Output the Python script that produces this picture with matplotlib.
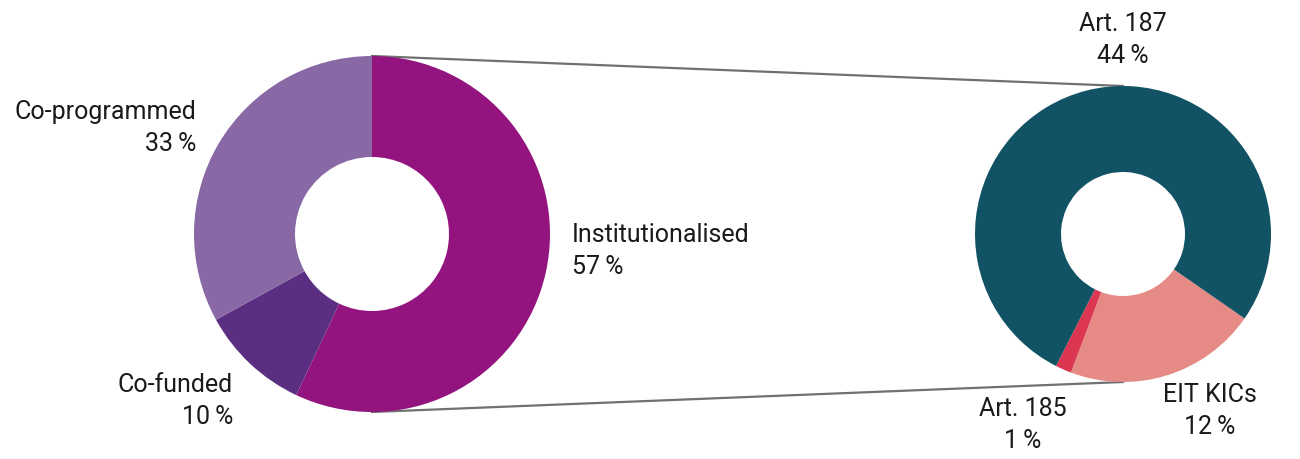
import matplotlib.pyplot as plt

plt.rcParams['font.family'] = ['Roboto', 'DejaVu Sans']

# main split of the partnerships
main_labels = ['Institutionalised', 'Co-funded', 'Co-programmed']
main_values = [57, 10, 33]
main_colors = ['#93147e', '#5a2e80', '#8869a5']

# breakdown of the institutionalised share
inst_labels = ['EIT KICs', 'Art. 185', 'Art. 187']
inst_values = [12, 1, 44]
inst_colors = ['#e58a84', '#db3752', '#115264']

W, H = 1300, 459


def pct(v):
    return f'{v}\u2009%'


fig = plt.figure(figsize=(13, 4.59), dpi=100)
ax = fig.add_axes([0, 0, 1, 1])

left_c, left_r = (372, 234), 178
right_c, right_r = (1123, 234), 148

# connector lines, drawn behind the donuts
ax.plot([left_c[0], right_c[0]], [left_c[1] - left_r, right_c[1] - right_r],
        color='#707070', lw=1.6, zorder=1)
ax.plot([left_c[0], right_c[0]], [left_c[1] + left_r, right_c[1] + right_r],
        color='#707070', lw=1.6, zorder=1)

# y axis is flipped, so counterclock=True here draws clockwise on screen
w1, _ = ax.pie(main_values, colors=main_colors, startangle=-90, counterclock=True,
               center=left_c, radius=left_r, frame=True,
               wedgeprops=dict(width=left_r - 77, linewidth=0))
w2, _ = ax.pie(inst_values, colors=inst_colors, startangle=34.8, counterclock=True,
               center=right_c, radius=right_r, frame=True,
               wedgeprops=dict(width=right_r - 62, linewidth=0))
for w in w1 + w2:
    w.set_zorder(2)

ax.set_xlim(0, W)
ax.set_ylim(H, 0)
ax.set_aspect('equal')
ax.axis('off')

fs = 18
kw = dict(fontsize=fs, color='#1a1a1a', va='baseline', linespacing=1.4)
ax.text(196, 151, f'{main_labels[2]}\n{pct(main_values[2])}', ha='right', **kw)
ax.text(572, 274, f'{main_labels[0]}\n{pct(main_values[0])}', ha='left', **kw)
ax.text(233, 424, f'{main_labels[1]}\n{pct(main_values[1])}', ha='right', **kw)
ax.text(1123, 63, f'{inst_labels[2]}\n{pct(inst_values[2])}', ha='center', multialignment='center', **kw)
ax.text(1023, 448, f'{inst_labels[1]}\n{pct(inst_values[1])}', ha='center', multialignment='center', **kw)
ax.text(1210, 434, f'{inst_labels[0]}\n{pct(inst_values[0])}', ha='center', multialignment='center', **kw)

fig.savefig('out.png', dpi=100)
